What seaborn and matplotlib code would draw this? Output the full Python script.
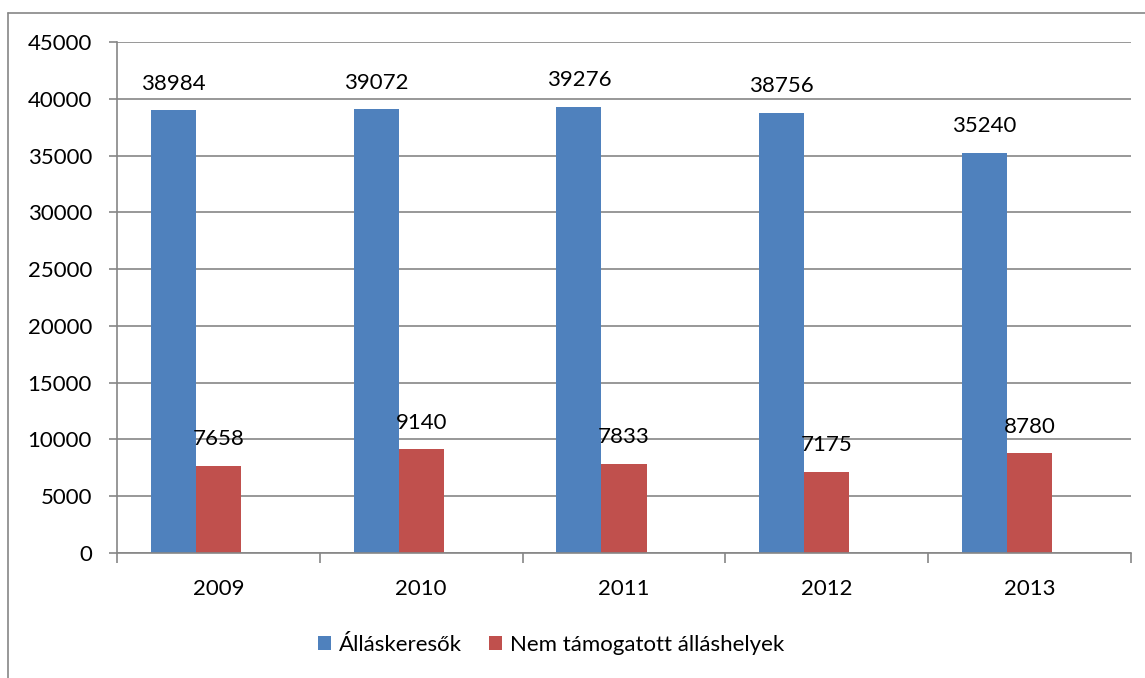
import matplotlib
matplotlib.use("Agg")
import matplotlib.pyplot as plt
import seaborn as sns
import pandas as pd
from matplotlib.patches import Patch
from matplotlib.lines import Line2D
from matplotlib.ticker import MultipleLocator, FixedLocator

years = ["2009", "2010", "2011", "2012", "2013"]
series_names = ["Álláskeresők", "Nem támogatott álláshelyek"]
allaskeresok = [38984, 39072, 39276, 38756, 35240]
nem_tamogatott = [7658, 9140, 7833, 7175, 8780]

sns.set_style("white")
plt.rcParams['font.family'] = ['Lato', 'DejaVu Sans']
plt.rcParams['text.color'] = 'black'
plt.rcParams['xtick.labelcolor'] = 'black'
plt.rcParams['ytick.labelcolor'] = 'black'

df = pd.DataFrame({
    "year": years * 2,
    "series": [series_names[0]] * len(years) + [series_names[1]] * len(years),
    "value": allaskeresok + nem_tamogatott,
})

colors = {series_names[0]: "#4F81BD", series_names[1]: "#C0504D", " ": "#FFFFFF"}
grid_c = "#868686"

fig = plt.figure(figsize=(11.45, 6.78), dpi=100)
ax = fig.add_axes([117/1145, 1 - 553/678, (1131 - 117)/1145, (553 - 42)/678])

sns.barplot(data=df, x="year", y="value", hue="series",
            hue_order=series_names + [" "], palette=colors,
            width=2/3, legend=False, ax=ax, saturation=1,
            edgecolor="none", linewidth=0)

ax.set_ylim(0, 45000)
ax.set_xlim(-0.5, len(years) - 0.5)
ax.yaxis.set_major_locator(MultipleLocator(5000))
ax.grid(axis="y", color=grid_c, linewidth=1.2)
ax.set_axisbelow(True)
for s in ["top", "right"]:
    ax.spines[s].set_visible(False)
for s in ["left", "bottom"]:
    ax.spines[s].set_color(grid_c)
    ax.spines[s].set_linewidth(1.2)

ax.set_xlabel("")
ax.set_ylabel("")
ax.tick_params(axis="y", length=6, width=1.2, color=grid_c, labelcolor="black",
               labelsize=16, pad=12, left=True)
ax.tick_params(axis="x", which="major", length=0, labelsize=16, pad=19, labelcolor="black")
ax.xaxis.set_minor_locator(FixedLocator([i - 0.5 for i in range(len(years) + 1)]))
ax.tick_params(axis="x", which="minor", length=7, width=1.2, color=grid_c, bottom=True)

for cont in ax.containers:
    ax.bar_label(cont, fmt="%d", padding=12, fontsize=16, color="black")

handles = [Patch(facecolor=colors[n], edgecolor="none") for n in series_names]
fig.legend(handles, series_names, loc="center", bbox_to_anchor=(551/1145, 1 - 645/678),
           ncol=2, frameon=False, fontsize=16, handlelength=0.6, handleheight=0.6,
           handletextpad=0.35, columnspacing=1.2, labelcolor="black")

# outer chart border (left and top edges visible)
fig.add_artist(Line2D([8/1145, 8/1145], [0, 1 - 13/678], transform=fig.transFigure, color=grid_c, linewidth=1.2))
fig.add_artist(Line2D([8/1145, 1.0], [1 - 13/678, 1 - 13/678], transform=fig.transFigure, color=grid_c, linewidth=1.2))

fig.savefig("out.png", dpi=100)
